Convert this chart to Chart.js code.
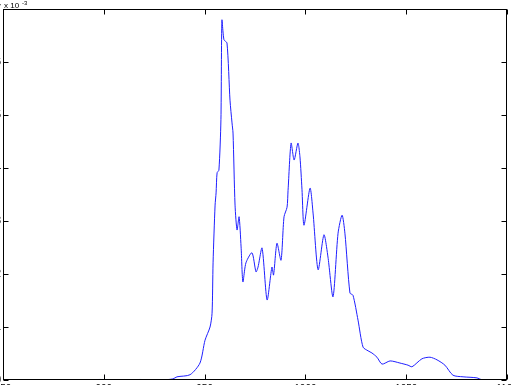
<!DOCTYPE html>
<html>
<head>
<meta charset="utf-8">
<script src="https://cdn.jsdelivr.net/npm/chart.js@4.4.1/dist/chart.umd.min.js"></script>
<style>
  html, body { margin: 0; padding: 0; background: #fff; overflow: hidden; width: 511px; height: 385px; }
  #wrap { position: absolute; left: -27px; top: 0; }
</style>
</head>
<body>
<div id="wrap"><canvas id="spec" width="560" height="405"></canvas></div>
<script>
// wavelength (x) and intensity (y, in units of 10^-3)
const wavelength = [
  888.2, 898.1, 908.0, 918.0, 927.9, 934.3, 936.3, 942.8, 947.7, 950.2,
  952.7, 953.7, 954.2, 955.2, 955.7, 956.2, 957.1, 958.1, 958.6, 959.6,
  961.1, 962.6, 963.6, 964.1, 965.1, 966.1, 967.1, 968.1, 969.0, 970.5,
  973.5, 975.5, 976.5, 978.5, 981.0, 983.4, 984.2, 985.9, 987.9, 989.4,
  990.9, 991.4, 992.9, 994.4, 996.3, 997.3, 998.3, 999.3, 1002.3, 1003.8,
  1006.3, 1009.2, 1011.2, 1013.7, 1016.2, 1018.2, 1019.6, 1022.1, 1023.6, 1026.1,
  1028.6, 1031.1, 1033.0, 1035.5, 1038.0, 1042.0, 1046.9, 1050.9, 1052.9, 1057.8,
  1061.8, 1065.3, 1069.2, 1073.2, 1078.2, 1085.1, 1087.6
];
const intensity = [
  0.00, 0.01, 0.00, 0.01, 0.00, 0.02, 0.06, 0.10, 0.32, 0.75,
  1.00, 1.26, 2.21, 3.30, 3.53, 3.91, 3.96, 4.91, 6.79, 6.42,
  6.36, 5.28, 4.85, 4.66, 3.30, 2.83, 3.08, 2.51, 1.85, 2.21,
  2.40, 2.04, 2.13, 2.49, 1.51, 2.13, 1.98, 2.58, 2.26, 3.08,
  3.26, 3.58, 4.47, 4.15, 4.47, 4.21, 3.60, 2.92, 3.62, 3.15,
  2.08, 2.74, 2.32, 1.57, 2.77, 3.11, 2.77, 1.64, 1.60, 1.13,
  0.62, 0.55, 0.51, 0.43, 0.30, 0.36, 0.32, 0.28, 0.25, 0.40,
  0.43, 0.38, 0.28, 0.09, 0.06, 0.04, 0.00
];
const xMin = 850, xMax = 1100, xStep = 50;
const yMin = 0, yMax = 7, yStep = 1;

const points = wavelength.map((w, i) => ({ x: w, y: intensity[i] }));

// matlab style: closed box, ticks pointing inwards, exponent label on top
const boxPlugin = {
  id: 'box',
  afterDraw(chart) {
    const { ctx, chartArea: a, scales } = chart;
    ctx.save();
    ctx.strokeStyle = '#000';
    ctx.lineWidth = 1;
    const L = Math.round(a.left) + 0.5, R = Math.round(a.right) - 0.5;
    const T = Math.round(a.top) + 0.5, B = Math.round(a.bottom) - 0.5;
    ctx.strokeRect(L, T, R - L, B - T);
    ctx.beginPath();
    scales.x.ticks.forEach(t => {
      const px = Math.round(scales.x.getPixelForValue(t.value)) + 0.5;
      ctx.moveTo(px, B); ctx.lineTo(px, B - 5);
      ctx.moveTo(px, T); ctx.lineTo(px, T + 5);
    });
    scales.y.ticks.forEach(t => {
      const py = Math.round(scales.y.getPixelForValue(t.value)) + 0.5;
      ctx.moveTo(L, py); ctx.lineTo(L + 5, py);
      ctx.moveTo(R, py); ctx.lineTo(R - 5, py);
    });
    ctx.stroke();

    ctx.fillStyle = '#000';
    ctx.textBaseline = 'alphabetic';
    ctx.font = '8px "Liberation Sans", Arial, sans-serif';
    ctx.fillText('x 10', a.left + 1, a.top - 1);
    ctx.font = '6px "Liberation Sans", Arial, sans-serif';
    ctx.fillText('-3', a.left + 19, a.top - 4);
    ctx.restore();
  }
};

new Chart(document.getElementById('spec'), {
  type: 'line',
  data: {
    datasets: [{
      data: points,
      borderColor: '#1f1fff',
      borderWidth: 1,
      pointRadius: 0,
      tension: 0.25,
      fill: false
    }]
  },
  options: {
    responsive: false,
    animation: false,
    layout: { padding: { top: 9, right: 26, bottom: 0, left: 0 } },
    plugins: { legend: { display: false }, tooltip: { enabled: false } },
    scales: {
      x: {
        type: 'linear',
        min: xMin, max: xMax,
        grid: { display: false, drawTicks: false },
        border: { display: false },
        ticks: { stepSize: xStep, padding: 3, color: '#000', maxRotation: 0,
                 callback: v => String(v),
                 font: { size: 10, family: '"Liberation Sans", Arial, sans-serif' } },
        afterFit(scale) { scale.height = 25; }
      },
      y: {
        min: yMin, max: yMax,
        grid: { display: false, drawTicks: false },
        border: { display: false },
        ticks: { stepSize: yStep, padding: 2, color: '#000',
                 callback: v => String(v),
                 font: { size: 10, family: '"Liberation Sans", Arial, sans-serif' } },
        afterFit(scale) { scale.width = 30; }
      }
    }
  },
  plugins: [boxPlugin]
});
</script>
</body>
</html>
